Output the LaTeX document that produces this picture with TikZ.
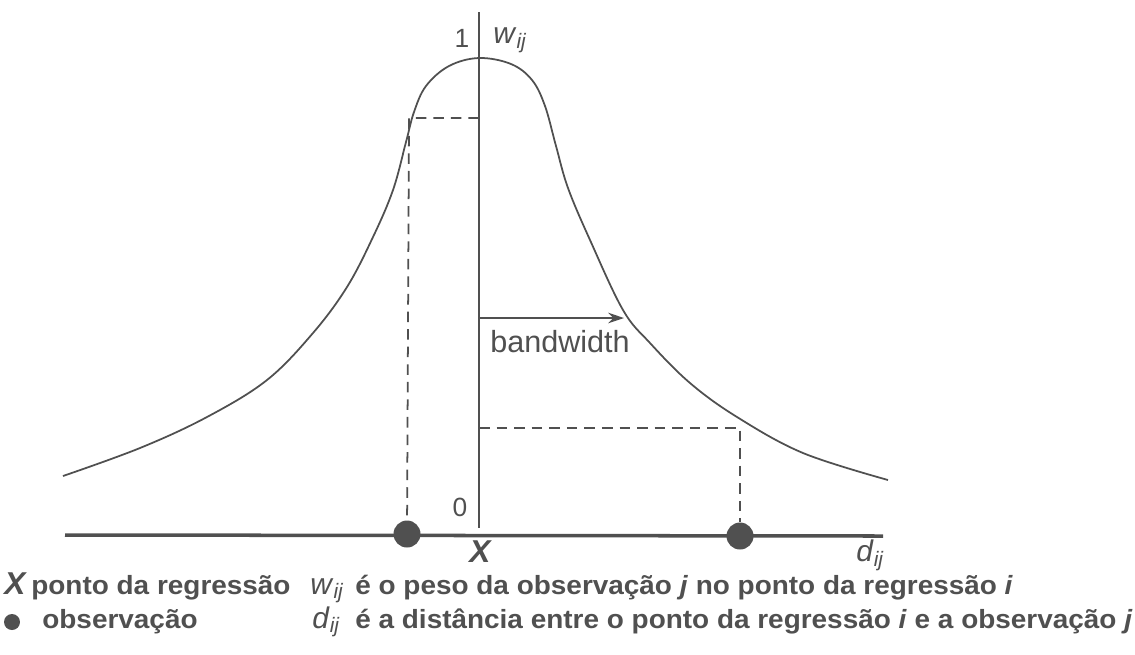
\documentclass[tikz,border=0pt]{standalone}
\usepackage{fontspec}
\setmainfont{Liberation Sans}
\newfontfamily\legfont[FakeStretch=1.06]{Liberation Sans}
\usepackage{xcolor}
\usetikzlibrary{arrows.meta,positioning}

\definecolor{ink}{HTML}{505050}

\begin{document}
\begin{tikzpicture}[
  x=0.02cm, y=-0.02cm,
  axis/.style={draw=ink, line width=1.1pt},
  baseline axis/.style={draw=ink, line width=2pt},
  curve/.style={draw=ink, line width=1pt},
  guide/.style={draw=ink, line width=1pt, dash pattern=on 6pt off 4pt},
  obs/.style={circle, fill=ink, inner sep=0pt, minimum size=5.4mm},
  lbl/.style={text=ink, font=\fontsize{15}{17}\selectfont, inner sep=0pt},
  leg/.style={text=ink, font=\legfont\bfseries\fontsize{15}{17}\selectfont,
              inner sep=0pt, anchor=base west},
  >={Stealth[length=9pt, width=6pt]}
]
\useasboundingbox (0,0) rectangle (1135,654);

% Axes
\coordinate (top) at (479,12);
\coordinate (orig) at (479,528);
\coordinate (axL) at (65,535);
\coordinate (axR) at (883,536);
\draw[axis] (top) -- (orig);
\draw[baseline axis] (axL) -- (axR);

% Kernel curve
\draw[curve] plot[smooth, tension=0.6] coordinates {
  (63,476) (140,448) (207,417) (267,380) (313,333) (347,287)
  (373,237) (393,190) (406,142) (414,112) (426,86) (449,66)
  (479,58) (511,64) (532,80) (545,106) (556,146) (568,188)
  (590,240) (623,310) (650,343) (690,383) (737,417) (803,453) (888,480)};

% Observations
\node[obs] (obsL) at (407,534) {};
\node[obs] (obsR) at (740,536) {};

% Dashed guides
\coordinate (wL) at (479,118);
\coordinate (kL) at (409,118);
\coordinate (wR) at (479,428);
\coordinate (kR) at (740,428);
\draw[guide] (wL) -- (kL) -- (obsL);
\draw[guide] (wR) -- (kR) -- (obsR);

% Bandwidth
\coordinate (bwA) at (479,318);
\coordinate (bwB) at (624,318);
\draw[axis, ->] (bwA) -- (bwB);
\node[lbl, font=\fontsize{17.4}{19}\selectfont, anchor=west] (bw) at (490,342) {bandwidth};

% Axis labels
\node[lbl] (one) at (462,38) {1};
\node[lbl] (zero) at (460,507) {0};
\node[lbl, font=\fontsize{17}{19}\selectfont, anchor=west] (wij) at (493,40) {\textit{w}\textsubscript{\textit{ij}}};
\node[lbl, font=\bfseries\itshape\fontsize{18}{20}\selectfont] (X) at (480,552) {X};
\node[lbl, font=\fontsize{17}{19}\selectfont, anchor=west] (dij) at (856,555) {\textit{d}\textsubscript{\textit{ij}}};

% Legend
\node[leg, font=\bfseries\itshape\fontsize{18}{20}\selectfont] (legX) at (4,594) {X};
\node[leg] (legXt) at (31,594) {ponto da regressão};
\node[leg, font=\fontsize{17}{19}\selectfont] (legw) at (310,594) {\textit{w}\textsubscript{\textit{ij}}};
\node[leg] (legwt) at (355,594) {é o peso da observação \textit{j} no ponto da regressão \textit{i}};
\node[obs, minimum size=3.2mm] (legdot) at (12,622) {};
\node[leg] (legdt) at (42,628) {observação};
\node[leg, font=\fontsize{17}{19}\selectfont] (legd) at (312,628) {\textit{d}\textsubscript{\textit{ij}}};
\node[leg] (legddt) at (355,628) {é a distância entre o ponto da regressão \textit{i} e a observação \textit{j}};
\end{tikzpicture}
\end{document}
